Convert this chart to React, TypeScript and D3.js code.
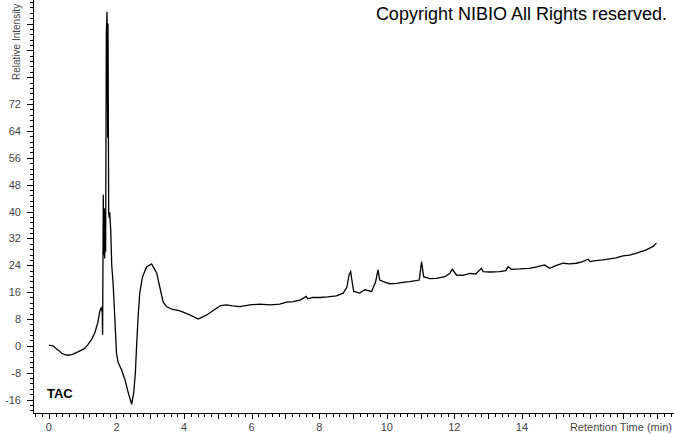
// TAC chromatogram: relative intensity against retention time

import React, { useEffect, useRef } from "react"
import * as d3 from "d3"

const retentionTimes = [
  0.0, 0.12, 0.27, 0.38, 0.53, 0.68, 0.86, 1.04, 1.15, 1.27, 1.36, 1.45, 1.51, 1.55, 1.58,
  1.59, 1.61, 1.62, 1.64, 1.65, 1.67, 1.68, 1.7, 1.72, 1.74, 1.75, 1.77, 1.79, 1.8, 1.83,
  1.86, 1.9, 1.95, 2.0, 2.05, 2.15, 2.25, 2.35, 2.45, 2.51, 2.56, 2.59, 2.64, 2.69, 2.77,
  2.89, 3.04, 3.19, 3.28, 3.38, 3.48, 3.64, 3.88, 4.17, 4.42, 4.67, 4.96, 5.09, 5.26, 5.44,
  5.65, 5.95, 6.24, 6.54, 6.83, 7.04, 7.23, 7.43, 7.62, 7.66, 7.81, 8.02, 8.25, 8.51, 8.71,
  8.82, 8.88, 8.93, 8.96, 9.02, 9.2, 9.35, 9.55, 9.67, 9.74, 9.79, 9.94, 10.09, 10.29, 10.47,
  10.68, 10.86, 10.96, 11.03, 11.09, 11.27, 11.47, 11.72, 11.86, 11.94, 12.06, 12.25, 12.46,
  12.63, 12.8, 12.85, 13.05, 13.34, 13.52, 13.59, 13.69, 13.93, 14.23, 14.47, 14.67, 14.82,
  15.0, 15.22, 15.41, 15.61, 15.77, 15.96, 16.01, 16.18, 16.4, 16.6, 16.78, 16.99, 17.19,
  17.39, 17.68, 17.88, 17.98
]

const intensities = [
  0.2, 0.0, -1.2, -2.2, -2.8, -2.6, -1.8, -0.9, 0.3, 2.0, 3.9, 7.0, 10.5, 11.3, 10.0,
  3.3, 45, 27, 41, 26, 40, 28, 93, 99.5, 62, 96, 39.6, 38, 39.8, 34.5,
  24, 18.7, 8.6, -2.1, -5, -7.1, -10, -14, -17.4, -14, -8, -1.2, 8.6, 15.8, 20.5,
  23.5, 24.4, 21.7, 17.6, 13.1, 11.7, 10.9, 10.4, 9.2, 8.0, 9.2, 11.2, 12.0, 12.2, 11.9,
  11.7, 12.2, 12.4, 12.2, 12.4, 13.0, 13.2, 13.6, 14.7, 14.0, 14.4, 14.4, 14.6, 14.9, 15.7,
  17.5, 21.0, 22.1, 20.0, 16.2, 15.7, 16.7, 16.2, 19.1, 22.6, 19.6, 19.0, 18.5, 18.6, 18.9,
  19.1, 19.4, 19.6, 25.1, 20.6, 20.0, 20.1, 20.6, 21.5, 22.8, 21.1, 21.0, 21.6,
  21.4, 23.1, 22.1, 22.0, 22.1, 22.4, 23.6, 22.8, 22.9, 23.1, 23.6, 24.1, 23.1,
  23.9, 24.6, 24.4, 24.6, 25.0, 25.8, 25.1, 25.4, 25.6, 25.9, 26.2, 26.8, 27.0,
  27.6, 28.6, 29.6, 30.6
]

const xTickLabels = [0, 2, 4, 6, 8, 10, 12, 14]
const yTickLabels = [-16, -8, 0, 8, 16, 24, 32, 40, 48, 56, 64, 72]

export default function App() {
  const ref = useRef<SVGSVGElement>(null)

  useEffect(() => {
    const width = 674
    const height = 434
    const svg = d3.select(ref.current)
    svg.selectAll("*").remove()

    const x = d3.scaleLinear().domain([-0.47, 18.47]).range([33, 673])
    const y = d3.scaleLinear().domain([-20, 103]).range([413, 0])
    const font = "Arial, 'Liberation Sans', sans-serif"

    svg.append("rect").attr("width", width).attr("height", height).attr("fill", "#fff")

    // axes lines
    svg.append("line").attr("x1", 33.5).attr("x2", 33.5).attr("y1", 0).attr("y2", 413.5)
      .attr("stroke", "#000")
    svg.append("line").attr("x1", 33).attr("x2", width).attr("y1", 413.5).attr("y2", 413.5)
      .attr("stroke", "#000")

    // y ticks: minor every 1.6, major every 8
    const yMinor = d3.range(-19.2, 103, 1.6)
    svg.append("g").selectAll("line").data(yMinor).enter().append("line")
      .attr("x1", d => (Math.abs(d / 8 - Math.round(d / 8)) < 0.01 ? 27 : 30))
      .attr("x2", 33)
      .attr("y1", d => Math.round(y(d)) + 0.5)
      .attr("y2", d => Math.round(y(d)) + 0.5)
      .attr("stroke", "#000")

    svg.append("g").selectAll("text").data(yTickLabels).enter().append("text")
      .attr("x", 21)
      .attr("y", d => y(d) + 4)
      .attr("text-anchor", "end")
      .attr("font-family", font)
      .attr("font-size", 11)
      .attr("fill", "#444")
      .text(d => d)

    // x ticks: minor every 0.2, medium every 1
    const xMinor = d3.range(-0.4, 18.5, 0.2)
    svg.append("g").selectAll("line").data(xMinor).enter().append("line")
      .attr("x1", d => Math.round(x(d)) + 0.5)
      .attr("x2", d => Math.round(x(d)) + 0.5)
      .attr("y1", 413)
      .attr("y2", d => (Math.abs(d - Math.round(d)) < 0.01 ? 419 : 417))
      .attr("stroke", "#000")

    svg.append("g").selectAll("text").data(xTickLabels).enter().append("text")
      .attr("x", d => x(d))
      .attr("y", 431)
      .attr("text-anchor", "middle")
      .attr("font-family", font)
      .attr("font-size", 11)
      .attr("fill", "#444")
      .text(d => d)

    svg.append("text")
      .attr("x", 672).attr("y", 431)
      .attr("text-anchor", "end")
      .attr("font-family", font).attr("font-size", 11).attr("fill", "#444")
      .text("Retention Time (min)")

    svg.append("text")
      .attr("transform", "translate(20,80) rotate(-90)")
      .attr("font-family", font).attr("font-size", 10).attr("fill", "#444")
      .text("Relative Intensity")

    // trace
    const pts = retentionTimes.map((t, i) => [t, intensities[i]] as [number, number])
    const line = d3.line<[number, number]>().x(d => x(d[0])).y(d => y(d[1]))
    svg.append("path").datum(pts)
      .attr("d", line)
      .attr("fill", "none")
      .attr("stroke", "#000")
      .attr("stroke-width", 1.3)

    svg.append("text")
      .attr("x", 47).attr("y", 398)
      .attr("font-family", font).attr("font-size", 13).attr("font-weight", "bold")
      .text("TAC")

    svg.append("text")
      .attr("x", 667).attr("y", 20)
      .attr("text-anchor", "end")
      .attr("font-family", font).attr("font-size", 18)
      .text("Copyright NIBIO All Rights reserved.")
  }, [])

  return (
    <svg ref={ref} width={674} height={434}
      style={{ position: "absolute", left: 0, top: 0, display: "block" }} />
  )
}
